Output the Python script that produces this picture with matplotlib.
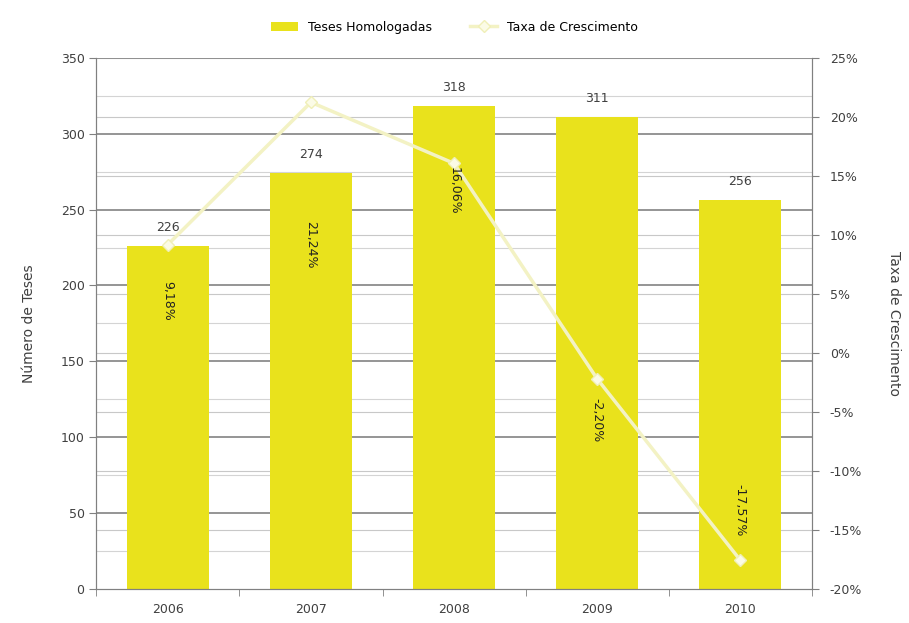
import matplotlib.pyplot as plt
import matplotlib.transforms as mtransforms
import numpy as np

anos = ["2006", "2007", "2008", "2009", "2010"]
teses = [226, 274, 318, 311, 256]
taxa = [9.18, 21.24, 16.06, -2.20, -17.57]
taxa_txt = ["9,18%", "21,24%", "16,06%", "-2,20%", "-17,57%"]

# onde ficam os rótulos de taxa (escala da direita, em %)
pos_rotulo = [4.4, 9.2, 13.7, -5.7, -13.3]

cor_barra = "#e9e21c"
cor_linha = "#f3f2c4"
cinza = "#404040"

fig = plt.figure(figsize=(9.09, 6.23), dpi=100)
ax = fig.add_axes([0.106, 0.055, 0.787, 0.852])
ax2 = ax.twinx()

x = np.arange(len(anos))

ax.set_xlim(-0.5, 4.5)
ax.set_ylim(0, 350)
ax2.set_ylim(-20, 25)

# grades (todas atrás das barras)
trans_dir = mtransforms.blended_transform_factory(ax.transAxes, ax2.transData)
for v in np.arange(-15, 26, 5):
    ax.plot([0, 1], [v, v], transform=trans_dir, color="#c8c8c8", lw=0.8, zorder=0)
for v in np.arange(25, 350, 50):
    ax.axhline(v, color="#d4d4d4", lw=0.8, zorder=0)
for v in np.arange(50, 351, 50):
    ax.axhline(v, color="#8c8c8c", lw=1.3, zorder=0)

ax.bar(x, teses, width=0.57, color=cor_barra, zorder=2, label="Teses Homologadas")
for xi, t in zip(x, teses):
    ax.text(xi, t + 8, str(t), ha="center", va="bottom", fontsize=9, color=cinza)

ax.set_yticks(np.arange(0, 351, 50))
ax.set_xticks(x)
ax.set_xticklabels(anos)
ax.set_xticks(np.arange(-0.5, 4.6, 1), minor=True)
ax.tick_params(axis="x", which="major", length=0, pad=10, labelsize=9, colors=cinza)
ax.tick_params(axis="x", which="minor", length=5, color="#808080")
ax.tick_params(axis="y", labelsize=9, colors=cinza, length=5, color="#808080")
ax.set_ylabel("Número de Teses", fontsize=10, color=cinza, labelpad=18)

ax2.plot(x, taxa, color=cor_linha, lw=2.5, marker="D", markersize=6,
         markerfacecolor="#fbfbe6", markeredgecolor="#f0efb8", zorder=4,
         label="Taxa de Crescimento")
for xi, p, s in zip(x, pos_rotulo, taxa_txt):
    ax2.text(xi, p, s, ha="center", va="center", rotation=270, fontsize=9,
             color="#222222", zorder=5)
ax2.set_yticks(np.arange(-20, 26, 5))
ax2.set_yticklabels([f"{v}%" for v in range(-20, 26, 5)])
ax2.tick_params(axis="y", labelsize=9, colors=cinza, length=5, color="#808080", pad=8)
ax2.set_ylabel("Taxa de Crescimento", fontsize=10, color=cinza, rotation=270, labelpad=28)

for a in (ax, ax2):
    a.spines["top"].set_visible(False)
    for s in ("left", "right", "bottom"):
        a.spines[s].set_color("#808080")

h1, l1 = ax.get_legend_handles_labels()
h2, l2 = ax2.get_legend_handles_labels()
fig.legend(h1 + h2, l1 + l2, loc="upper center", bbox_to_anchor=(0.5, 0.985), ncol=2,
           frameon=False, fontsize=9, handlelength=2.2, columnspacing=3)

fig.savefig("out.png", dpi=100)
